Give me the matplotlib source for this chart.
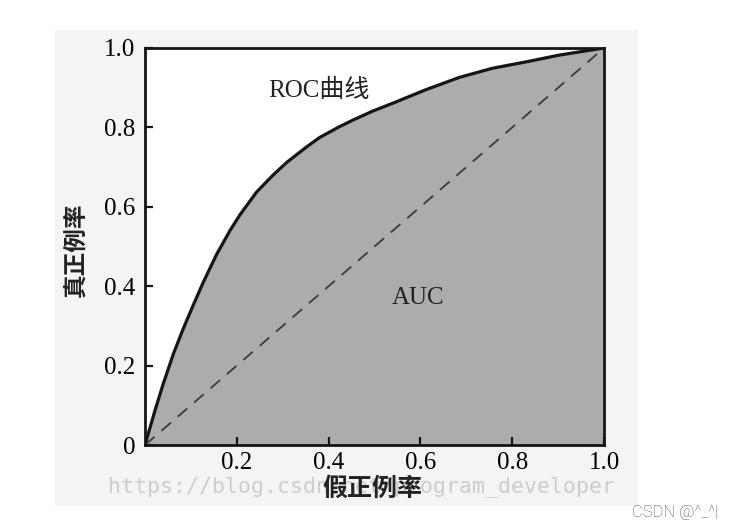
import matplotlib.pyplot as plt
from matplotlib.patches import Rectangle

# ROC curve
fpr = [0, 0.005, 0.022, 0.04, 0.062, 0.083, 0.105, 0.127, 0.156, 0.185,
       0.207, 0.243, 0.279, 0.309, 0.351, 0.381, 0.424, 0.454, 0.496, 0.54,
       0.612, 0.685, 0.757, 0.83, 0.902, 1.0]
tpr = [0, 0.02, 0.088, 0.155, 0.23, 0.292, 0.352, 0.41, 0.48, 0.54,
       0.58, 0.637, 0.68, 0.712, 0.75, 0.775, 0.802, 0.819, 0.841, 0.861,
       0.895, 0.926, 0.949, 0.965, 0.982, 1.0]

diag = [0, 1]
xticks = [0.2, 0.4, 0.6, 0.8, 1.0]
xlabels = ['0.2', '0.4', '0.6', '0.8', '1.0']
yticks = [0, 0.2, 0.4, 0.6, 0.8, 1.0]
ylabels = ['0', '0.2', '0.4', '0.6', '0.8', '1.0']

serif = ['Liberation Serif', 'Noto Sans CJK SC']
cjk = ['Noto Sans CJK SC', 'DejaVu Sans']

fig = plt.figure(figsize=(7.3, 5.32), dpi=100)
fig.patch.set_facecolor('white')
# light grey scanned page behind the plot
fig.patches.append(Rectangle((55/730, 1-505/532), (637-55)/730, (505-30)/532,
                             transform=fig.transFigure, color='#f4f4f4', zorder=-10))

ax = fig.add_axes([145/730, 87/532, 459/730, 397/532])
ax.set_facecolor('white')

ax.fill_between(fpr, tpr, 0, color='#acacac', lw=0)
ax.plot(fpr, tpr, color='#151515', lw=2.3, solid_capstyle='round', solid_joinstyle='round')
ax.plot(diag, diag, color='#3a3a3a', lw=1.3, dashes=(7, 5))

ax.set_xlim(0, 1)
ax.set_ylim(0, 1)
ax.set_xticks(xticks)
ax.set_xticklabels(xlabels, family=serif, fontsize=18)
ax.set_yticks(yticks)
ax.set_yticklabels(ylabels, family=serif, fontsize=18)
ax.tick_params(direction='in', length=6, width=1.6, color='#151515')
ax.tick_params(axis='x', pad=5)
ax.tick_params(axis='y', pad=7)
for s in ax.spines.values():
    s.set_linewidth(2)
    s.set_color('#151515')

ax.text(0.268, 0.892, 'ROC曲线', family=serif, fontsize=18, va='center', color='#222222')
ax.text(0.595, 0.37, 'AUC', family=serif, fontsize=18, ha='center', va='center', color='#222222')

fig.text(75/730, 1-250/532, '真正例率', family=cjk, fontsize=17, fontweight='bold',
         rotation=90, ha='center', va='center', color='#222222', zorder=3)
fig.text(362/730, 1-487/532, 'https://blog.csdn.net/program_developer',
         family='DejaVu Sans Mono', fontsize=15.5, color='#cdcdcd',
         ha='center', va='center', zorder=2)
fig.text(372/730, 1-489/532, '假正例率', family=cjk, fontsize=18, fontweight='bold',
         ha='center', va='center', color='#222222', zorder=3)
fig.text(718/730, 1-512/532, 'CSDN @^_^|', family='Roboto', fontweight='light',
         fontsize=12, color='#555555', ha='right', va='center', zorder=3)

fig.savefig('out.png', dpi=100)
